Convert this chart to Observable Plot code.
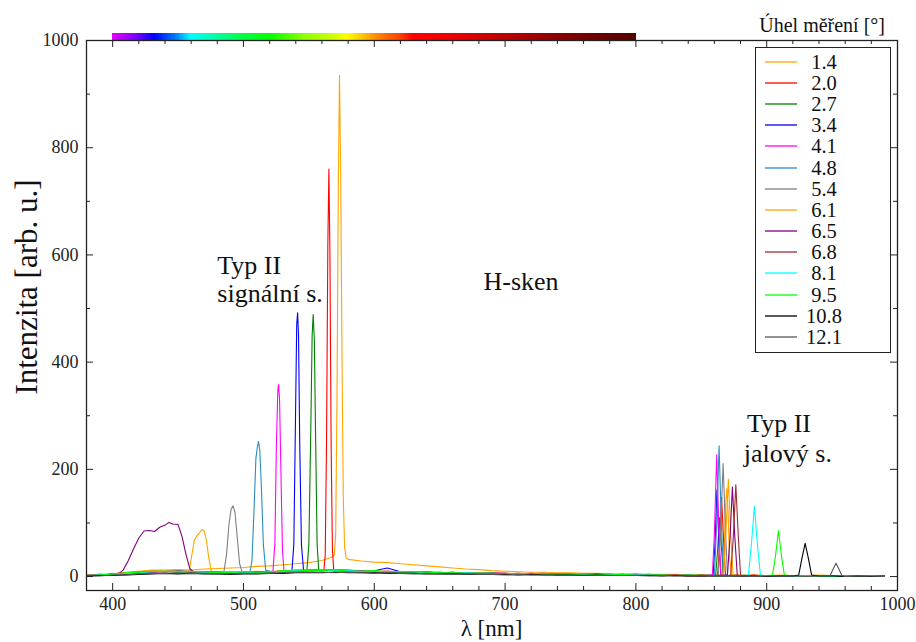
<!DOCTYPE html>
<html><head><meta charset="utf-8">
<script src="https://cdn.jsdelivr.net/npm/d3@7"></script>
<script src="https://cdn.jsdelivr.net/npm/@observablehq/plot@0.6"></script>
<style>
body{margin:0;background:#fff}
#wrap{position:relative;width:916px;height:642px;font-family:'Liberation Serif',serif;color:#111}
#wrap svg text{font-family:'Liberation Serif',serif}
#legend{position:absolute;left:755px;top:47px;width:136px;height:306px;border:1px solid #222;box-sizing:border-box;padding-top:3px;background:#fff}
.row{display:flex;align-items:center;height:21.2px;overflow:hidden}
.sw{display:block;margin-left:9px}
.lb{display:inline-block;width:48px;margin-left:3px;text-align:center;font-size:20.5px;line-height:20px;height:20px;font-family:'Liberation Serif',serif}
#ltitle{position:absolute;right:31px;top:12px;font-size:20px;line-height:26px;font-family:'Liberation Serif',serif}
</style></head><body><div id="wrap"></div>
<script>
// ---------------- data ----------------
const angles = ["1.4","2.0","2.7","3.4","4.1","4.8","5.4","6.1","6.5","6.8","8.1","9.5","10.8","12.1"];
const colors = ["#ffa500","#ff0000","#008000","#0000ff","#ff00ff","#2b8cc4","#808080","#ffa500","#800080","#a52a2a","#00ffff","#00ff00","#000000","#555555"];
const grid = [380,390,400,410,420,430,440,450,460,470,480,490,500,510,520,530,540,550,560,570,580,590,600,610,620,630,640,650,660,670,680,690,700,710,720,730,740,750,760,770,780,790,800,810,820,830,840,850,860,870,880,890,900,910,920,930,940,950,960,970,980,990];

const base_1_4  = [3,4,5,8,10,12,12,13,12,14, 15,16,17,19,20,22,24,26,30,34, 32,29,27,26,24,22,20,18,16,14, 13,11,10,9,8,8,7,7,6,6, 5,5,5,4,4,4,3,3,3,3, 3,3,2,3,2,2,3,2,2,2, 2,2];
const base_2_0  = [3,2,5,7,9,10,9,11,8,9, 7,8,7,9,8,11,10,12,13,12, 11,11,9,10,8,9,7,8,6,7, 5,7,6,4,5,6,3,5,4,3, 4,2,3,4,2,3,1,3,2,2, 1,3,1,2,0,2,1,0,2,1, 0,1];
const base_2_7  = [2,4,3,6,8,9,11,10,9,7, 9,7,9,8,10,9,12,13,11,12, 10,11,10,8,9,8,8,6,7,6, 6,5,6,5,4,5,5,3,4,5, 3,4,2,3,3,2,2,3,1,2, 2,1,2,1,1,2,0,1,1,2, 1,0];
const base_3_4  = [1,3,4,5,7,8,10,9,10,8, 8,6,8,7,9,10,11,12,13,11, 12,10,11,16,9,8,9,7,8,6, 7,6,5,6,4,5,4,5,3,4, 3,3,4,2,3,2,3,1,2,2, 1,2,1,1,2,0,1,2,1,0, 1,1];
const base_4_1  = [2,3,4,6,9,8,10,10,8,9, 7,8,8,9,9,10,10,11,12,12, 10,11,9,10,9,7,8,7,6,7, 5,6,6,5,6,4,4,5,3,4, 4,3,2,3,2,3,2,1,2,2, 2,2,1,1,1,0,2,1,0,1, 1,1];
const base_4_8  = [3,2,5,6,8,10,9,11,9,8, 8,7,7,8,10,9,11,10,12,11, 11,9,10,9,8,9,7,7,8,5, 6,6,4,5,5,4,5,3,4,4, 3,3,3,2,3,2,2,2,1,2, 2,1,2,1,0,1,1,2,1,1, 0,1];
const base_5_4  = [2,3,3,5,8,9,10,9,10,8, 7,8,7,9,8,10,10,12,11,12, 10,10,9,10,8,8,7,8,6,7, 6,5,5,5,4,5,3,4,4,3, 3,2,3,3,2,2,3,1,2,1, 2,1,1,2,1,1,0,1,1,0, 1,1];
const base_6_1  = [3,3,5,7,9,11,11,10,11,9, 9,8,9,10,9,11,12,12,13,12, 12,11,10,10,9,9,8,8,7,6, 7,5,6,6,5,5,4,5,4,3, 4,3,3,2,3,3,2,2,2,2, 1,2,2,1,2,1,1,0,1,2, 1,1];
const base_6_5  = [2,3,4,6,8,9,10,9,8,8, 8,7,8,8,9,10,10,11,11,12, 11,10,9,9,8,8,7,7,6,6, 6,5,5,4,5,4,4,4,3,3, 3,3,2,3,2,2,2,1,2,2, 1,1,2,1,1,1,0,1,1,1, 0,1];
const base_6_8  = [2,2,4,5,8,9,9,10,8,9, 8,8,7,8,9,9,11,11,12,11, 10,11,9,9,9,7,8,7,7,6, 5,6,5,5,4,5,4,3,4,4, 3,3,3,2,2,3,1,2,2,1, 2,1,1,1,2,0,1,1,1,0, 1,1];
const base_8_1  = [2,3,4,6,7,9,10,9,9,8, 8,8,8,7,9,10,11,10,12,11, 11,10,10,9,9,8,8,7,6,7, 6,6,5,5,5,4,4,4,4,3, 3,3,3,3,2,2,2,2,2,1, 2,2,1,1,1,1,1,0,1,1, 1,0];
const base_9_5  = [1,3,4,7,8,10,10,8,9,9, 7,8,9,8,8,11,10,12,11,13, 10,10,11,9,8,9,8,7,7,6, 6,6,5,4,5,5,4,3,5,4, 3,4,2,3,3,2,3,2,1,2, 2,1,2,1,1,1,1,1,0,1, 1,2];
const base_10_8 = [1,2,2,3,4,5,6,5,6,5, 5,4,5,5,6,6,7,7,7,8, 7,7,7,6,6,6,5,5,5,4, 4,4,4,3,4,3,3,3,2,3, 2,2,2,2,1,2,1,1,1,1, 1,1,0,1,1,0,1,1,0,1, 0,1];
const base_12_1 = [1,1,3,3,5,6,6,7,6,6, 5,5,6,6,6,7,8,8,8,7, 8,7,6,7,6,5,6,5,4,5, 4,4,3,4,3,3,3,2,3,2, 2,2,2,1,2,1,1,1,1,1, 1,0,1,1,1,0,1,1,0,1, 1,0];

// peaks: signal (left) and idler (right) segments, [wavelength nm, intensity]
const peaks_1_4  = [[[545,25],[550,26],[555,28],[560,30],[565,34],[568,37],[569.5,40],[570.5,80],[571.5,330],[572.5,720],[573.4,935],[574.3,760],[575.3,420],[576.3,150],[577.3,55],[578.5,35]],
                    [[866,3],[867.5,50],[868.5,130],[869.5,164],[870.5,120],[871.5,40],[873,4]]];
const peaks_2_0  = [[[561.5,12],[562.5,40],[563.5,250],[564.5,620],[565.3,760],[566.1,600],[567,250],[568,50],[569,12]],
                    [[862.5,3],[864,60],[865.5,148],[867,70],[868.5,3]]];
const peaks_2_7  = [[[548.5,12],[550,60],[551.5,280],[552.5,450],[553.3,489],[554.2,440],[555.2,250],[556.3,60],[557.5,14]],
                    [[861,3],[862.5,50],[864,110],[865.5,50],[867,3]]];
const peaks_3_4  = [[[537,9],[538.5,60],[539.8,300],[540.7,470],[541.4,492],[542.1,450],[543,250],[544.3,60],[546,10]],
                    [[859,3],[860.5,60],[862,162],[863.5,60],[865,3]]];
const peaks_4_1  = [[[522.5,9],[524,60],[525.2,250],[526.3,350],[526.9,358],[527.6,330],[528.6,200],[529.8,50],[531,10]],
                    [[858.5,3],[860,80],[861.8,227],[863.5,80],[865,3]]];
const peaks_4_8  = [[[505,8],[506.5,30],[508,120],[509.5,220],[510.5,240],[511.5,252],[512.5,235],[513.8,160],[515.2,60],[517,12]],
                    [[860,3],[861.8,100],[863.6,244],[865.3,100],[867,3]]];
const peaks_5_4  = [[[485,8],[487,40],[489,100],[490.5,125],[492,132],[493.5,120],[495,80],[497,25],[499,8]],
                    [[863,3],[864.8,90],[866.7,211],[868.4,90],[870,3]]];
const peaks_6_1  = [[[458.5,10],[460.5,40],[462.5,68],[464.5,76],[466.5,82],[468.5,88],[470,85],[471.5,70],[473.5,35],[475.5,10]],
                    [[867,3],[868.8,80],[870.7,182],[872.5,80],[874.3,3]]];
const peaks_6_5  = [[[405,6],[408,12],[412,30],[416,52],[420,72],[424,85],[428,86],[432,84],[436,92],[440,96],[443,101],[446,98],[450,97],[453,75],[456,42],[459,15],[462,8]],
                    [[870,3],[872,75],[873.8,167],[875.6,75],[877.5,3]]];
const peaks_6_8  = [[[872.5,3],[874.5,75],[876.4,171],[878.3,75],[880,3]]];
const peaks_8_1  = [[[886,3],[888.3,60],[890.6,131],[892.9,60],[895.2,3]]];
const peaks_9_5  = [[[904.5,3],[906.8,40],[909,86],[911.2,40],[913.5,3]]];
const peaks_10_8 = [[[924.5,3],[927,35],[929.4,62],[931.8,35],[934.3,3]]];
const peaks_12_1 = [[[948.5,2],[951,15],[953,25],[955,15],[957.5,2]]];

const baselines = [base_1_4,base_2_0,base_2_7,base_3_4,base_4_1,base_4_8,base_5_4,base_6_1,base_6_5,base_6_8,base_8_1,base_9_5,base_10_8,base_12_1];
const peakSets  = [peaks_1_4,peaks_2_0,peaks_2_7,peaks_3_4,peaks_4_1,peaks_4_8,peaks_5_4,peaks_6_1,peaks_6_5,peaks_6_8,peaks_8_1,peaks_9_5,peaks_10_8,peaks_12_1];

const xMajor = [400,500,600,700,800,900,1000];
const yMajor = [0,200,400,600,800,1000];
const barNm = [400,418,432,449,460,477,500,520,545,568,579,590,602,619,630,658,686,715,743,777,800];
const barColors = ["#e000ff","#8000ff","#0000ff","#0080ff","#00ffff","#00ffaa","#00ff44","#00ff00","#88ff00","#ccff00","#ffff00","#ffcc00","#ff8800","#ff4400","#ff0000","#ee0000","#cc0000","#aa0000","#880000","#660000","#550000"];
const notes = [
  {t:"Typ II", x:480, y:565},
  {t:"signální s.", x:480, y:513},
  {t:"H-sken", x:683.5, y:534},
  {t:"Typ II", x:885, y:269},
  {t:"jalový s.", x:882.5, y:213}
];

// ---------------- build table ----------------
const rows = [];
angles.forEach((a, i) => {
  const segs = peakSets[i];
  const pts = [];
  grid.forEach((w, k) => {
    if (!segs.some(s => w >= s[0][0] && w <= s[s.length-1][0])) pts.push([w, baselines[i][k]]);
  });
  segs.forEach(s => s.forEach(p => pts.push(p)));
  pts.sort((p, q) => p[0] - q[0]);
  pts.forEach(p => rows.push({angle: a, color: colors[i], wl: p[0], I: p[1]}));
});

const W = 916, H = 642, mL = 86, mR = 19, mT = 40, mB = 52;
const xDom = [380, 1000], yDom = [-26, 1000];
const kx = (xDom[1]-xDom[0]) / (W - mL - mR);
const ky = (yDom[1]-yDom[0]) / (H - mT - mB);
const xMinor = d3.range(400, 1001, 20).filter(v => !xMajor.includes(v));
const yMinor = d3.range(100, 1000, 200);
const bar = d3.range(400, 800, 1);
const barScale = d3.scaleLinear().domain(barNm).range(barColors).interpolate(d3.interpolateRgb);

const FONT = "'Liberation Serif', serif";
const tk = 7, tm = 4;
const ink = "#222";
const svg = Plot.plot({
  width: W, height: H, marginLeft: mL, marginRight: mR, marginTop: mT, marginBottom: mB,
  x: {domain: xDom, label: null},
  y: {domain: yDom, label: null},
  color: {type: "identity"},
  style: "font-family: 'Liberation Serif', serif; font-size: 18px; background: white; color: #222; overflow: visible;",
  marks: [
    Plot.rect(bar, {x1: d => d, x2: d => d + 1.2, y1: 1000, y2: 1000 + 7*ky, fill: d => barScale(d + 0.5), shapeRendering: "crispEdges"}),
    Plot.line(rows, {x: "wl", y: "I", z: "angle", stroke: "color", strokeWidth: 1.1}),
    Plot.frame({stroke: ink, strokeWidth: 1.3}),
    Plot.ruleX(xMajor, {y1: yDom[0], y2: yDom[0] + tk*ky, stroke: ink}),
    Plot.ruleX(xMinor, {y1: yDom[0], y2: yDom[0] + tm*ky, stroke: ink}),
    Plot.ruleX(xMajor, {y1: yDom[1], y2: yDom[1] - tk*ky, stroke: ink}),
    Plot.ruleX(xMinor, {y1: yDom[1], y2: yDom[1] - tm*ky, stroke: ink}),
    Plot.ruleY(yMajor, {x1: xDom[0], x2: xDom[0] + tk*kx, stroke: ink}),
    Plot.ruleY(yMinor, {x1: xDom[0], x2: xDom[0] + tm*kx, stroke: ink}),
    Plot.ruleY(yMajor, {x1: xDom[1], x2: xDom[1] - tk*kx, stroke: ink}),
    Plot.ruleY(yMinor, {x1: xDom[1], x2: xDom[1] - tm*kx, stroke: ink}),
    Plot.axisX({ticks: xMajor, tickSize: 0, tickPadding: 7, tickFormat: d => String(d), label: null, fontFamily: FONT, fontSize: 18, fill: "#222"}),
    Plot.axisY({ticks: yMajor, tickSize: 0, tickPadding: 8, tickFormat: d => String(d), label: null, fontFamily: FONT, fontSize: 18, fill: "#222"}),
    Plot.text(notes, {x: "x", y: "y", text: "t", textAnchor: "start", lineAnchor: "bottom", fontSize: 26, fontFamily: FONT, fill: "#111"})
  ]
});
const wrap = document.getElementById("wrap");
wrap.appendChild(svg);
const s = d3.select(svg);
s.append("text").attr("transform", "translate(26,287) rotate(-90)").attr("text-anchor", "middle")
  .attr("dominant-baseline", "central").attr("font-size", 31).attr("font-family", FONT).attr("fill", "#111").text("Intenzita [arb. u.]");
s.append("text").attr("x", 491.5).attr("y", 636).attr("text-anchor", "middle")
  .attr("font-size", 23).attr("font-family", FONT).attr("fill", "#111").text("λ [nm]");

// legend
const lt = document.createElement("div");
lt.id = "ltitle"; lt.textContent = "Úhel měření [°]";
wrap.appendChild(lt);
const lg = document.createElement("div");
lg.id = "legend";
const NS = "http://www.w3.org/2000/svg";
angles.forEach((a, i) => {
  const r = document.createElement("div"); r.className = "row";
  const sw = document.createElementNS(NS, "svg");
  sw.setAttribute("class", "sw"); sw.setAttribute("width", 32); sw.setAttribute("height", 4);
  const ln = document.createElementNS(NS, "line");
  ln.setAttribute("x1", 0); ln.setAttribute("x2", 32); ln.setAttribute("y1", 2); ln.setAttribute("y2", 2);
  ln.setAttribute("stroke", colors[i]); ln.setAttribute("stroke-width", 1.3);
  sw.appendChild(ln);
  const lb = document.createElement("span"); lb.className = "lb"; lb.textContent = a;
  r.appendChild(sw); r.appendChild(lb); lg.appendChild(r);
});
wrap.appendChild(lg);
</script></body></html>
